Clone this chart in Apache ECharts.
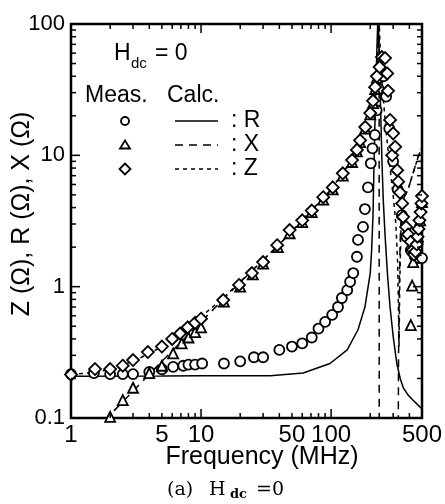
<!DOCTYPE html>
<html>
<head>
<meta charset="utf-8">
<script src="https://cdn.jsdelivr.net/npm/echarts@6/dist/echarts.min.js"></script>
<style>
  html, body { margin: 0; padding: 0; background: #fff; }
  #chart { width: 445px; height: 504px; }
</style>
</head>
<body>
<div id="chart"></div>
<script>
// measured R (circles)
const rMeasFreq = [1, 1.5, 2, 2.5, 3, 4, 5, 6.1, 7.3, 8, 9, 10.2, 15, 20, 25.5, 30, 40, 50, 60, 71, 80, 90, 102, 113, 121, 133, 140, 148, 158, 161, 176, 182, 192, 202, 208, 217, 224, 232, 240, 252, 265, 280, 300, 325, 350, 380, 410, 440, 470, 500]
const rMeasVal = [0.216, 0.22, 0.216, 0.216, 0.216, 0.224, 0.235, 0.245, 0.25, 0.255, 0.255, 0.26, 0.26, 0.27, 0.29, 0.29, 0.33, 0.35, 0.37, 0.41, 0.48, 0.54, 0.61, 0.70, 0.82, 0.94, 1.09, 1.27, 1.69, 2.27, 2.85, 3.9, 5.7, 8.7, 11.3, 14.3, 22, 32, 42, 40, 28, 16, 9, 5.5, 3.5, 2.4, 1.9, 1.7, 1.65, 1.65]

// measured X (triangles)
const xMeasFreq = [2.0, 2.5, 3, 4, 5, 6.1, 7.1, 8, 9, 10, 15, 20, 25, 30, 39, 48, 60, 71, 87, 103, 123, 145, 158, 167, 183, 200, 210, 218, 225, 410, 420, 428, 445, 465, 484, 500]
const xMeasVal = [0.102, 0.137, 0.17, 0.22, 0.25, 0.31, 0.37, 0.41, 0.45, 0.49, 0.77, 1.0, 1.24, 1.5, 2.0, 2.55, 3.1, 3.7, 4.6, 5.5, 7.0, 8.9, 10.7, 12.6, 16, 20.5, 25, 32, 39, 0.51, 1.02, 1.54, 1.9, 2.4, 3.2, 4.4]

// measured Z (diamonds)
const zMeasFreq = [1, 1.53, 2.0, 2.5, 3.0, 3.9, 5.0, 6.0, 6.9, 7.9, 9.0, 10, 14.8, 19.6, 24.6, 30, 38.5, 48, 60, 71, 87, 103, 123, 145, 158, 167, 183, 200, 210, 218, 225, 236, 246, 260, 270, 274, 284, 295, 300, 311, 322, 328, 339, 352, 358, 377, 391, 410, 425, 435, 445, 455, 462, 470, 478, 488, 495, 500]
const zMeasVal = [0.214, 0.236, 0.236, 0.25, 0.276, 0.318, 0.35, 0.40, 0.44, 0.49, 0.53, 0.57, 0.79, 1.03, 1.27, 1.54, 2.07, 2.7, 3.2, 3.8, 4.8, 5.7, 7.3, 9.2, 11, 13, 16.4, 21, 26, 33, 40, 47, 56, 55, 42, 31, 18.6, 10, 14.7, 11.6, 7.7, 6.3, 5.2, 4.3, 3.4, 2.85, 2.5, 2.2, 1.9, 1.75, 1.85, 2.1, 2.4, 2.75, 3.2, 3.7, 4.3, 4.9]

// calculated R (solid)
const rCalcFreq = [1, 5, 10, 20, 34, 61, 98, 133, 161, 182, 200, 205, 210, 214, 218, 222, 226, 229, 233, 237, 241, 246, 252, 261, 272, 284, 300, 320, 340, 359, 390, 425, 460, 500]
const rCalcVal = [0.208, 0.209, 0.21, 0.21, 0.21, 0.22, 0.26, 0.33, 0.47, 0.70, 1.27, 1.9, 3.5, 9, 20, 40, 75, 110, 75, 40, 20, 9, 4.5, 2.3, 1.2, 0.70, 0.42, 0.26, 0.2, 0.17, 0.15, 0.137, 0.127, 0.117]

// calculated X (long dash)
const xCalcFreq = [1.8, 5, 10, 20, 40, 60, 87, 103, 123, 145, 167, 183, 200, 210, 218, 225, 230, 234, 234.5, 328, 330, 335, 342, 357, 391, 430, 467, 500]
const xCalcVal = [0.095, 0.27, 0.54, 1.08, 2.1, 3.2, 4.8, 5.7, 7.3, 9.2, 13, 16.4, 21, 26, 33, 45, 70, 120, 0.05, 0.05, 0.3, 1.2, 2.8, 4.6, 5.5, 7.5, 9.7, 11.5]

// calculated Z (short dash)
const zCalcFreq = [1, 1.5, 2, 3, 4, 5, 7, 10, 15, 20, 30, 40, 60, 100, 145, 183, 210, 225, 230, 233, 240, 250, 265, 280, 300, 315, 325, 330, 333, 337, 345, 357, 391, 430, 467, 500]
const zCalcVal = [0.215, 0.222, 0.235, 0.27, 0.31, 0.35, 0.44, 0.59, 0.83, 1.09, 1.6, 2.1, 3.2, 5.5, 9.3, 16.5, 26, 45, 80, 120, 55, 30, 15, 9, 5, 3, 1.5, 0.6, 0.35, 1.0, 3.0, 4.6, 5.5, 7.5, 9.7, 11.5]

const xTickLabels = [1, 5, 10, 50, 100, 500]
const xMajorTicks = [10, 100]
const xMinorTicks = [2, 3, 4, 5, 6, 7, 8, 9, 20, 30, 40, 50, 60, 70, 80, 90, 200, 300, 400]
const yMajorTicks = [1, 10]
const yMinorTicks = [0.2, 0.3, 0.4, 0.5, 0.6, 0.7, 0.8, 0.9, 2, 3, 4, 5, 6, 7, 8, 9, 20, 30, 40, 50, 60, 70, 80, 90]

const font = 'Liberation Sans'
const serif = 'DejaVu Serif'
const chart = echarts.init(document.getElementById('chart'))

function pairs(fs, vs) {
  return fs.map((f, i) => [f, vs[i]])
}

function lineSeries(name, fs, vs, dash) {
  return {
    name: name,
    type: 'line',
    data: pairs(fs, vs),
    showSymbol: false,
    clip: true,
    z: 2,
    lineStyle: { color: '#000', width: 1.5, type: dash },
  }
}

function markSeries(name, fs, vs, symbol, size) {
  return {
    name: name,
    type: 'scatter',
    data: pairs(fs, vs),
    symbol: symbol,
    symbolSize: size,
    clip: true,
    z: 3,
    itemStyle: { color: '#fff', borderColor: '#000', borderWidth: 1.8, opacity: 1 },
  }
}

const option = {
  animation: false,
  grid: {
    left: 71, top: 24, right: 23, bottom: 86,
    show: true, borderColor: '#000', borderWidth: 2.5,
  },
  xAxis: {
    type: 'log', logBase: 10, min: 1, max: 500,
    axisLine: { show: false }, axisTick: { show: false },
    axisLabel: { show: false }, splitLine: { show: false },
  },
  yAxis: {
    type: 'log', logBase: 10, min: 0.1, max: 100,
    axisLine: { show: false }, axisTick: { show: false }, splitLine: { show: false },
    axisLabel: {
      color: '#000', fontSize: 22, fontFamily: font, margin: 6,
      formatter: v => String(+v.toPrecision(3)),
    },
  },
  series: [
    lineSeries('R calc', rCalcFreq, rCalcVal, 'solid'),
    lineSeries('X calc', xCalcFreq, xCalcVal, [8, 6]),
    lineSeries('Z calc', zCalcFreq, zCalcVal, [4, 4]),
    markSeries('R', rMeasFreq, rMeasVal, 'circle', 10),
    markSeries('X', xMeasFreq, xMeasVal, 'triangle', 10),
    markSeries('Z', zMeasFreq, zMeasVal, 'diamond', 12),
  ],
}
chart.setOption(option)

function px(p) {
  return chart.convertToPixel({ gridIndex: 0 }, p)
}

function seg(x1, y1, x2, y2, w, dash) {
  return {
    type: 'line', silent: true, z: 10,
    shape: { x1: x1, y1: y1, x2: x2, y2: y2 },
    style: { stroke: '#000', lineWidth: w || 1.5, lineDash: dash || null },
  }
}

function txt(x, y, s, size, align, fam, weight) {
  return {
    type: 'text', silent: true, z: 10, x: x, y: y,
    style: {
      text: s, fill: '#000', font: (weight || '') + ' ' + size + 'px "' + (fam || font) + '"',
      textAlign: align || 'left', textVerticalAlign: 'middle',
    },
  }
}

const [gx0, gy1] = px([1, 0.1])
const [gx1, gy0] = px([500, 100])
const els = []

// ticks on all four sides, pointing in
xMinorTicks.forEach(f => {
  const x = px([f, 1])[0]
  els.push(seg(x, gy1, x, gy1 - 5), seg(x, gy0, x, gy0 + 5))
})
xMajorTicks.forEach(f => {
  const x = px([f, 1])[0]
  els.push(seg(x, gy1, x, gy1 - 9), seg(x, gy0, x, gy0 + 9))
})
yMinorTicks.forEach(v => {
  const y = px([1, v])[1]
  els.push(seg(gx0, y, gx0 + 5, y), seg(gx1, y, gx1 - 5, y))
})
yMajorTicks.forEach(v => {
  const y = px([1, v])[1]
  els.push(seg(gx0, y, gx0 + 9, y), seg(gx1, y, gx1 - 9, y))
})

// x tick labels
xTickLabels.forEach(f => {
  const x = px([f, 1])[0]
  els.push(txt(x, gy1 + 17, String(f), 24, 'center'))
})

// axis titles
els.push(txt(262, 457, 'Frequency (MHz)', 25, 'center'))
els.push({
  type: 'text', silent: true, z: 10, x: 22, y: 214, rotation: Math.PI / 2,
  style: {
    text: 'Z (Ω), R (Ω), X (Ω)', fill: '#000', font: '25px "' + font + '"',
    textAlign: 'center', textVerticalAlign: 'middle',
  },
})

// caption
els.push(txt(167, 490, '(a)', 19, 'left', serif))
els.push(txt(209, 490, 'H', 19, 'left', serif))
els.push(txt(230, 495, 'dc', 13, 'left', serif, 'bold'))
els.push(txt(256, 490, '=0', 19, 'left', serif))

// in-plot legend
els.push(txt(114, 54, 'H', 23))
els.push(txt(131, 64, 'dc', 15))
els.push(txt(155, 54, '= 0', 23))
els.push(txt(85, 96, 'Meas.', 23))
els.push(txt(167, 96, 'Calc.', 23))

const rows = [121, 145, 169]
els.push({ type: 'circle', silent: true, z: 10, shape: { cx: 125, cy: rows[0], r: 4 },
  style: { fill: '#fff', stroke: '#000', lineWidth: 1.8 } })
els.push({ type: 'polygon', silent: true, z: 10,
  shape: { points: [[125, rows[1] - 4.5], [130, rows[1] + 3.5], [120, rows[1] + 3.5]] },
  style: { fill: '#fff', stroke: '#000', lineWidth: 1.8 } })
els.push({ type: 'polygon', silent: true, z: 10,
  shape: { points: [[125, rows[2] - 5.5], [130.5, rows[2]], [125, rows[2] + 5.5], [119.5, rows[2]]] },
  style: { fill: '#fff', stroke: '#000', lineWidth: 1.8 } })
els.push(seg(175, rows[0], 218, rows[0], 1.5))
els.push(seg(175, rows[1], 218, rows[1], 1.5, [8, 6]))
els.push(seg(175, rows[2], 218, rows[2], 1.5, [4, 4]))
els.push(txt(231, rows[0], ': R', 23))
els.push(txt(231, rows[1], ': X', 23))
els.push(txt(231, rows[2], ': Z', 23))

chart.setOption({ graphic: { elements: els } })
</script>
</body>
</html>
